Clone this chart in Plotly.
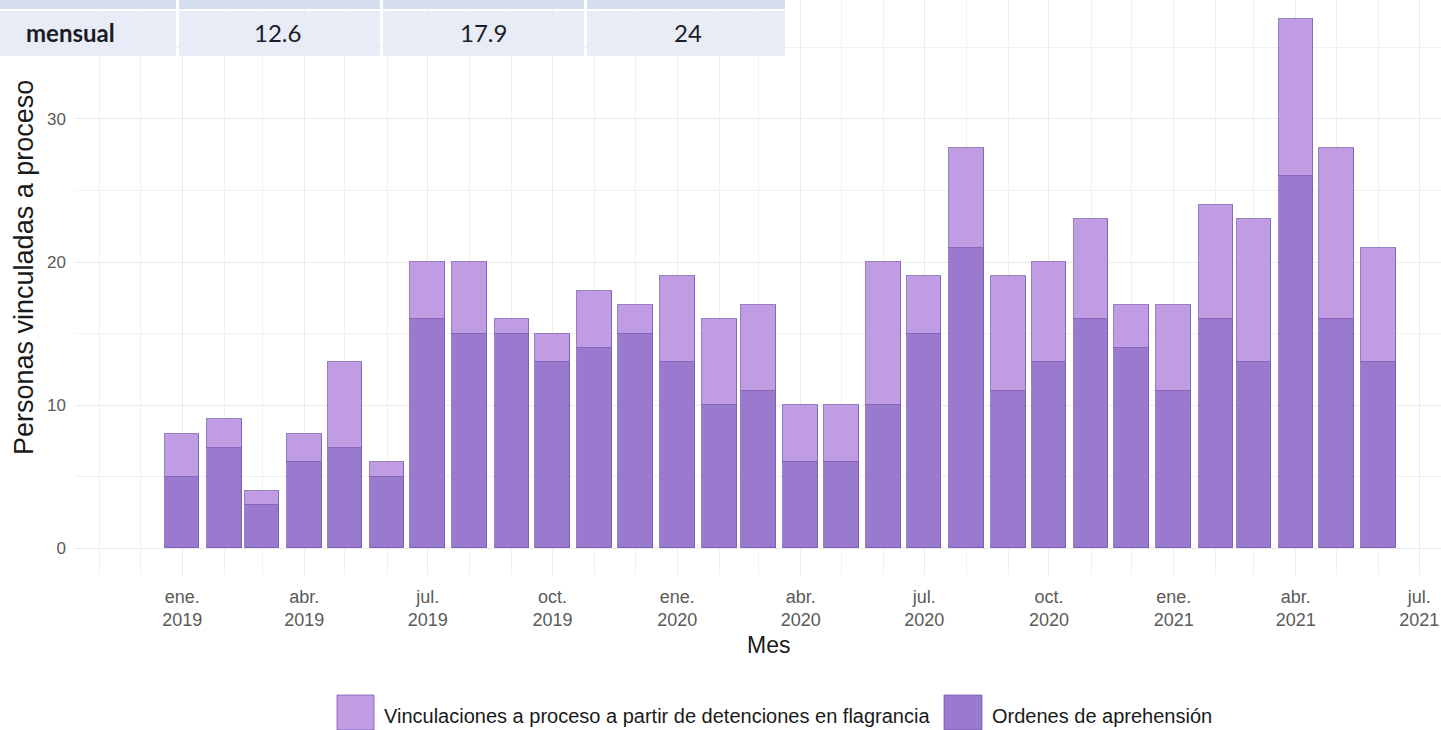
import plotly.graph_objects as go

# ---------------- data ----------------
months = [
    "2019-01-01", "2019-02-01", "2019-03-01", "2019-04-01", "2019-05-01", "2019-06-01",
    "2019-07-01", "2019-08-01", "2019-09-01", "2019-10-01", "2019-11-01", "2019-12-01",
    "2020-01-01", "2020-02-01", "2020-03-01", "2020-04-01", "2020-05-01", "2020-06-01",
    "2020-07-01", "2020-08-01", "2020-09-01", "2020-10-01", "2020-11-01", "2020-12-01",
    "2021-01-01", "2021-02-01", "2021-03-01", "2021-04-01", "2021-05-01", "2021-06-01",
]
ordenes = [5, 7, 3, 6, 7, 5, 16, 15, 15, 13, 14, 15,
           13, 10, 11, 6, 6, 10, 15, 21, 11, 13, 16, 14,
           11, 16, 13, 26, 16, 13]
flagrancia = [3, 2, 1, 2, 6, 1, 4, 5, 1, 2, 4, 2,
              6, 6, 6, 4, 4, 10, 4, 7, 8, 7, 7, 3,
              6, 8, 10, 11, 12, 8]

tick_vals = ["2019-01-01", "2019-04-01", "2019-07-01", "2019-10-01", "2020-01-01",
             "2020-04-01", "2020-07-01", "2020-10-01", "2021-01-01", "2021-04-01",
             "2021-07-01"]
tick_text = ["ene.<br>2019", "abr.<br>2019", "jul.<br>2019", "oct.<br>2019", "ene.<br>2020",
             "abr.<br>2020", "jul.<br>2020", "oct.<br>2020", "ene.<br>2021", "abr.<br>2021",
             "jul.<br>2021"]

table_label = "mensual"
table_values = ["12.6", "17.9", "24"]

name_flag = "Vinculaciones a proceso a partir de detenciones en flagrancia"
name_ord = "Ordenes de aprehensión"

# ---------------- styling ----------------
W, H = 1441, 730
C_LIGHT = "#c09de2"
C_DARK = "#9a7ace"
C_EDGE = "rgba(115,85,175,0.75)"
BAR_W = 25.5 * 24 * 3600 * 1000  # ms


def px(x):
    return x / W


def py(y):
    return (H - y) / H


fig = go.Figure()
fig.add_trace(go.Bar(x=months, y=ordenes, name=name_ord, width=BAR_W,
                     marker=dict(color=C_DARK, line=dict(color=C_EDGE, width=1)),
                     showlegend=False))
fig.add_trace(go.Bar(x=months, y=flagrancia, name=name_flag, width=BAR_W,
                     marker=dict(color=C_LIGHT, line=dict(color=C_EDGE, width=1)),
                     showlegend=False))

FONT = "Liberation Sans, Arial, sans-serif"

fig.update_layout(
    width=W, height=H, autosize=False,
    margin=dict(l=0, r=0, t=0, b=0),
    paper_bgcolor="white", plot_bgcolor="white",
    barmode="stack", bargap=0,
    font=dict(family=FONT),
    xaxis=dict(
        type="date", domain=[px(75), 1],
        range=["2018-10-14", "2021-07-17"],
        tickmode="array", tickvals=tick_vals, ticktext=tick_text,
        tickfont=dict(size=18, color="#5a5a5a", family=FONT),
        showgrid=True, gridcolor="#ebebeb", gridwidth=1.2,
        ticks="", showline=False, zeroline=False, automargin=False,
        ticklabelstandoff=9,
        minor=dict(tickmode="linear", tick0="2019-01-01", dtick="M1",
                   showgrid=True, gridcolor="#f1f1f1", gridwidth=0.8, ticks=""),
    ),
    yaxis=dict(
        domain=[py(574.5), 1],
        range=[-1.85, 38.32],
        tickmode="linear", tick0=0, dtick=10,
        tickfont=dict(size=17, color="#5a5a5a", family=FONT),
        showgrid=True, gridcolor="#ebebeb", gridwidth=1.2,
        ticks="", showline=False, zeroline=False, automargin=False,
        ticklabelstandoff=8,
        minor=dict(tickmode="linear", tick0=5, dtick=10,
                   showgrid=True, gridcolor="#f1f1f1", gridwidth=0.8, ticks=""),
    ),
)

shapes = []
annotations = []

# axis titles
annotations.append(dict(text="Personas vinculadas a proceso", x=px(24), y=py(268),
                        xref="paper", yref="paper", showarrow=False, textangle=-90,
                        font=dict(size=27, color="#1a1a1a", family=FONT),
                        xanchor="center", yanchor="middle"))
annotations.append(dict(text="Mes", x=px(768), y=py(645), xref="paper", yref="paper",
                        showarrow=False, font=dict(size=23, color="#1a1a1a", family=FONT),
                        xanchor="center", yanchor="middle"))

# custom legend
legend_items = [(name_flag, C_LIGHT, 337, 374), (name_ord, C_DARK, 944, 982)]
for label, col, x0, x1 in legend_items:
    shapes.append(dict(type="rect", xref="paper", yref="paper",
                       x0=px(x0), x1=px(x1), y0=py(730), y1=py(695),
                       fillcolor=col, line=dict(color=C_EDGE, width=1)))
    annotations.append(dict(text=label, x=px(x1 + 8), y=py(716), xref="paper", yref="paper",
                            showarrow=False, xanchor="left", yanchor="middle",
                            font=dict(size=20, color="#1a1a1a", family=FONT)))

# table overlay (top-left)
cells = [(0, 176), (179, 380), (383, 584), (587, 785)]
for x0, x1 in cells:
    shapes.append(dict(type="rect", xref="paper", yref="paper", layer="above",
                       x0=px(x0), x1=px(x1), y0=py(9), y1=py(0),
                       fillcolor="#d5ddee", line=dict(width=0)))
    shapes.append(dict(type="rect", xref="paper", yref="paper", layer="above",
                       x0=px(x0), x1=px(x1), y0=py(56), y1=py(11),
                       fillcolor="#e8ecf6", line=dict(width=0)))

annotations.append(dict(text="<b>" + table_label + "</b>", x=px(117), y=py(33),
                        xref="paper", yref="paper", showarrow=False,
                        xanchor="right", yanchor="middle",
                        font=dict(size=24, color="#1c1c28", family="Lato, sans-serif")))
centers = [277, 483, 688]
for val, cx in zip(table_values, centers):
    annotations.append(dict(text=val, x=px(cx), y=py(33), xref="paper", yref="paper",
                            showarrow=False, xanchor="center", yanchor="middle",
                            font=dict(size=24, color="#1c1c28", family="Lato, sans-serif")))

fig.update_layout(shapes=shapes, annotations=annotations)

fig.write_html("out.html",
               config={"displayModeBar": False},
               post_script="document.body.style.margin='0';"
                           "document.body.style.overflow='hidden';")
